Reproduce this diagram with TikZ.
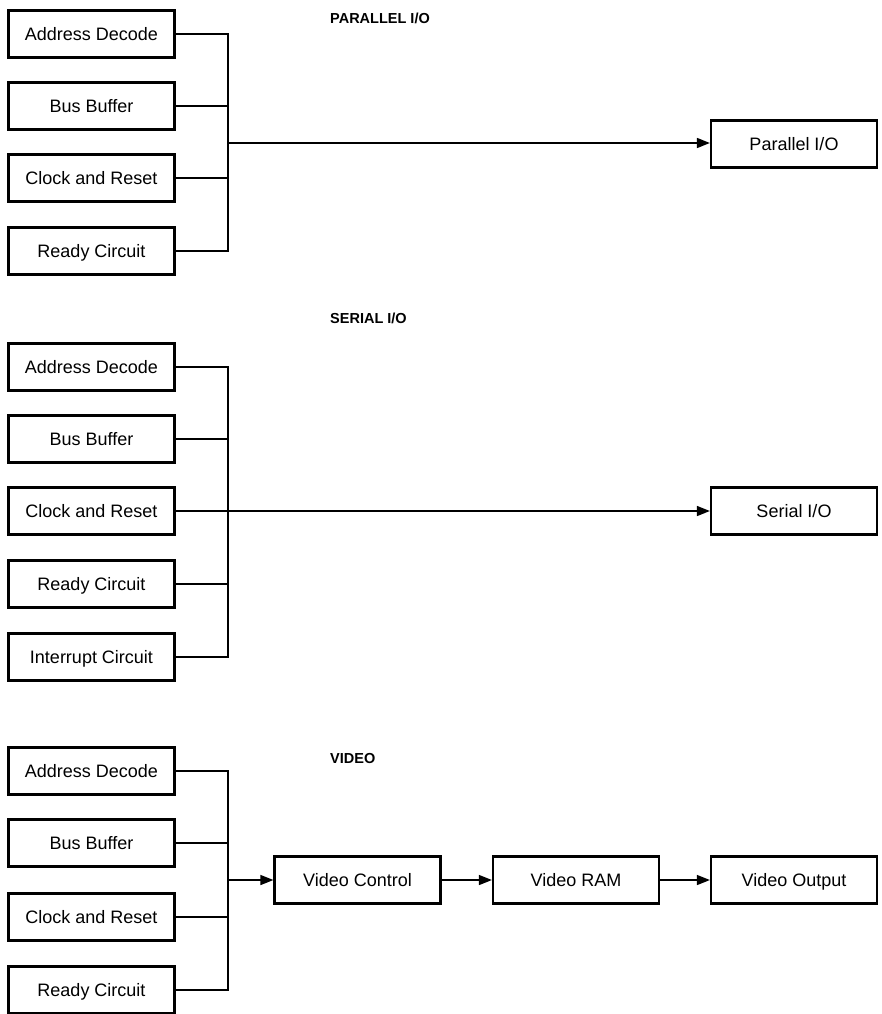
\documentclass[tikz,border=0pt]{standalone}
\usepackage{fontspec}
\setmainfont{Liberation Sans}
\usetikzlibrary{arrows.meta}
\begin{document}
\begin{tikzpicture}[x=1pt,y=-1pt,
  blk/.style={draw,line width=2.2pt,minimum width=166pt,minimum height=47pt,inner sep=0pt,text height=13pt,text depth=0pt,font=\fontsize{18}{21}\selectfont},
  wire/.style={line width=1.4pt},
  arr/.style={wire,-{Triangle[length=13pt,width=10pt]}},
  ttl/.style={anchor=west,inner sep=0pt,font=\fontsize{14.5}{17}\selectfont\bfseries}]
\useasboundingbox (0,0) rectangle (882,1014);
% titles
\node[ttl] (t1) at (330,18) {PARALLEL I/O};
\node[ttl] (t2) at (330,318) {SERIAL I/O};
\node[ttl] (t3) at (330,758) {VIDEO};
% parallel
\node[blk] (pa1) at (91.5,34) {Address Decode};
\node[blk] (pa2) at (91.5,106) {Bus Buffer};
\node[blk] (pa3) at (91.5,178) {Clock and Reset};
\node[blk] (pa4) at (91.5,251) {Ready Circuit};
\node[blk] (pio) at (794,144) {Parallel I/O};
\coordinate (pbus) at (228,143);
\draw[wire] (pa1.east) -| (pbus);
\draw[wire] (pa4.east) -| (pbus);
\draw[wire] (pa2.east) -- (pa2.east -| pbus);
\draw[wire] (pa3.east) -- (pa3.east -| pbus);
\draw[arr] (pbus) -- (pio.west |- pbus);
% serial
\node[blk] (sa1) at (91.5,367) {Address Decode};
\node[blk] (sa2) at (91.5,439) {Bus Buffer};
\node[blk] (sa3) at (91.5,511) {Clock and Reset};
\node[blk] (sa4) at (91.5,584) {Ready Circuit};
\node[blk] (sa5) at (91.5,657) {Interrupt Circuit};
\node[blk] (sio) at (794,511) {Serial I/O};
\coordinate (sbus) at (228,511);
\draw[wire] (sa1.east) -| (sbus);
\draw[wire] (sa5.east) -| (sbus);
\draw[wire] (sa2.east) -- (sa2.east -| sbus);
\draw[wire] (sa4.east) -- (sa4.east -| sbus);
\draw[arr] (sa3.east) -- (sio.west);
% video
\node[blk] (va1) at (91.5,771) {Address Decode};
\node[blk] (va2) at (91.5,843) {Bus Buffer};
\node[blk] (va3) at (91.5,917) {Clock and Reset};
\node[blk] (va4) at (91.5,990) {Ready Circuit};
\node[blk] (vc) at (357.5,880) {Video Control};
\node[blk] (vr) at (576,880) {Video RAM};
\node[blk] (vo) at (794,880) {Video Output};
\coordinate (vbus) at (228,880);
\draw[wire] (va1.east) -| (vbus);
\draw[wire] (va4.east) -| (vbus);
\draw[wire] (va2.east) -- (va2.east -| vbus);
\draw[wire] (va3.east) -- (va3.east -| vbus);
\draw[arr] (vbus) -- (vc.west);
\draw[arr] (vc.east) -- (vr.west);
\draw[arr] (vr.east) -- (vo.west);
\end{tikzpicture}
\end{document}
